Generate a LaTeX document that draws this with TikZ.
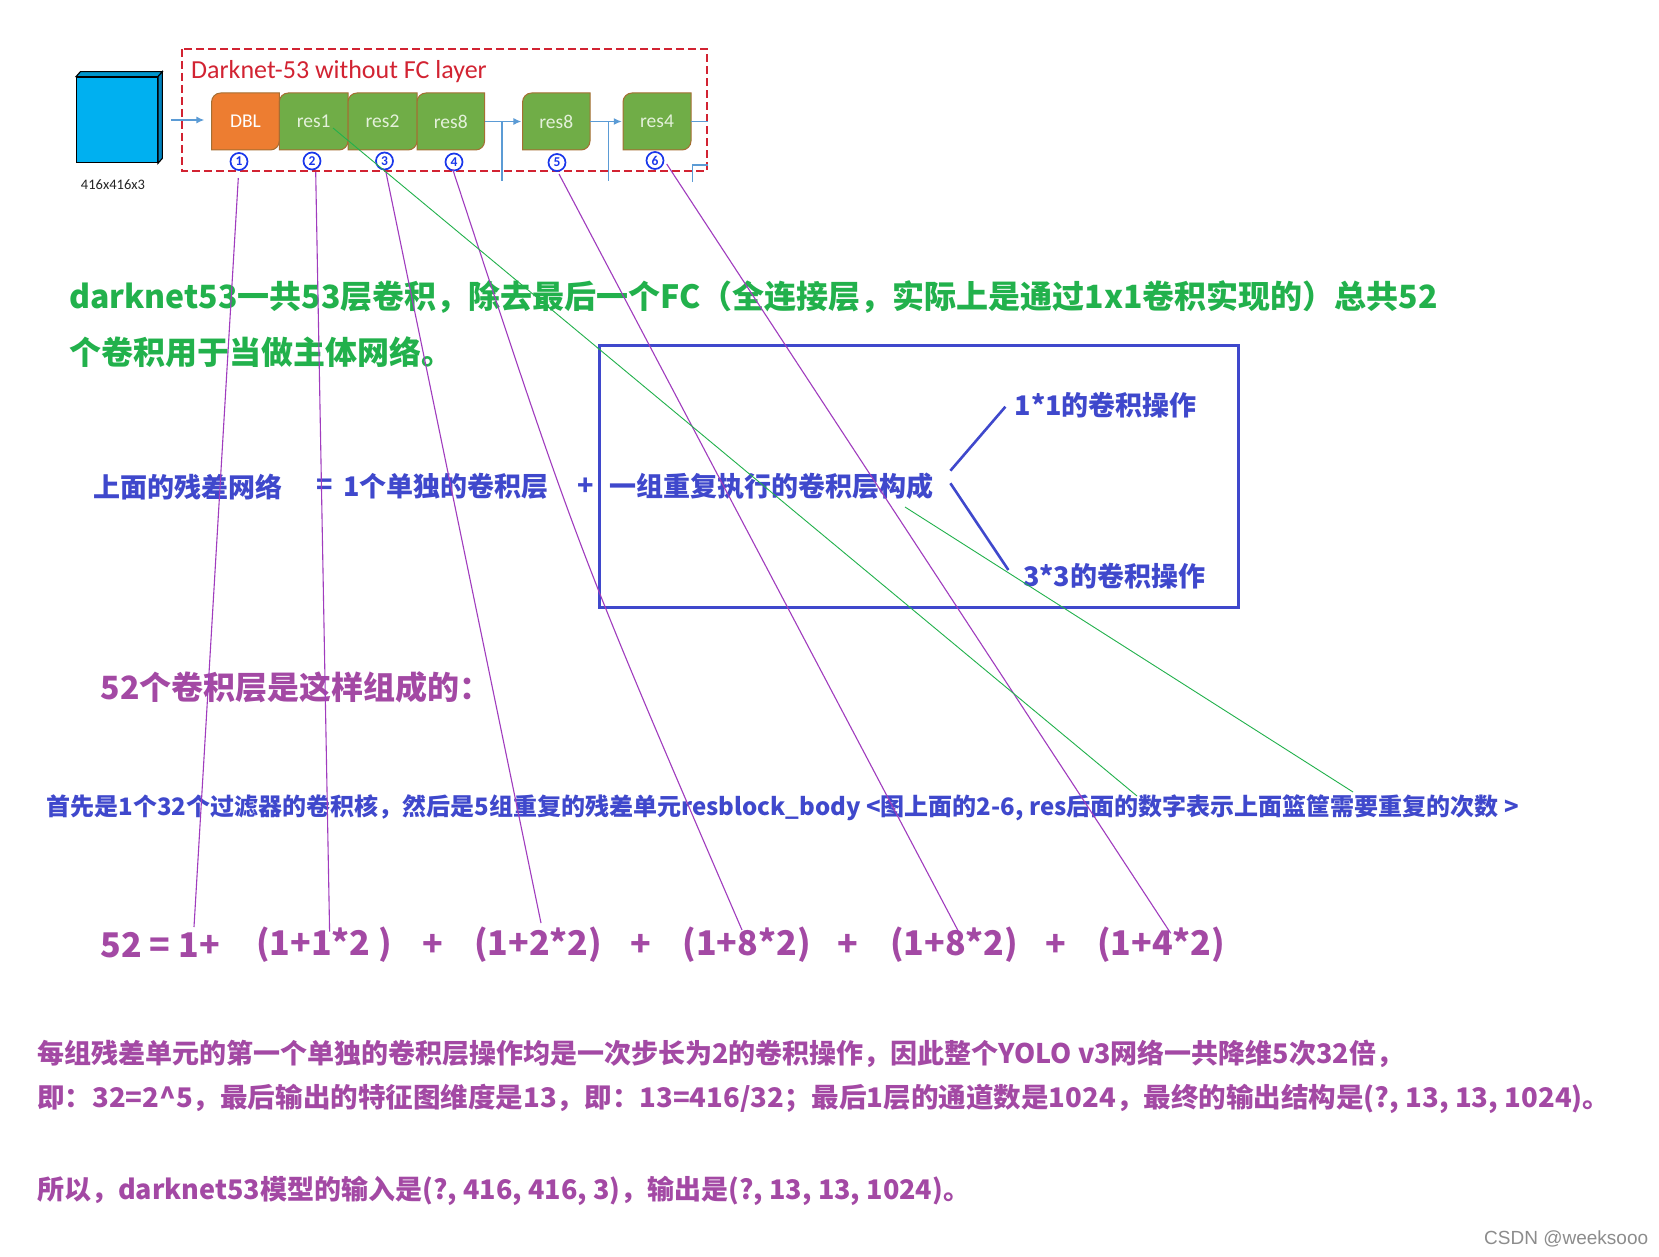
\documentclass[tikz,border=0pt]{standalone}
\usepackage{fontspec}
\setmainfont{Carlito}
\newfontfamily\cjk{Noto Sans CJK SC}
\newfontfamily\wmark{Liberation Sans}
\usepackage{xcolor}
\usepackage{tikz}
\usetikzlibrary{arrows.meta}
\definecolor{zhgreen}{RGB}{34,177,76}
\definecolor{zhblue}{RGB}{63,72,204}
\definecolor{zhpurple}{RGB}{163,73,164}
\definecolor{leadpurple}{RGB}{160,60,190}
\definecolor{dblorange}{RGB}{237,125,49}
\definecolor{resgreen}{RGB}{112,173,71}
\definecolor{restext}{RGB}{228,241,219}
\definecolor{blkedge}{RGB}{165,110,50}
\definecolor{flowblue}{RGB}{91,155,213}
\definecolor{cubeblue}{RGB}{0,176,240}
\definecolor{cubeside}{RGB}{0,130,190}
\definecolor{numblue}{RGB}{25,55,235}
\definecolor{boxred}{RGB}{210,35,50}
\tikzset{
  blkshape/.style = {draw=blkedge, line width=1pt},
  blktxt/.style   = {inner sep=0pt, minimum height=57pt, font=\fontsize{19.5}{19.5}\selectfont},
  numc/.style     = {circle, draw=numblue, fill=white, line width=1.7pt, inner sep=0pt, minimum size=17pt, text=numblue, font=\bfseries\fontsize{13.5}{13.5}\selectfont},
  flow/.style     = {draw=flowblue, line width=1.4pt, -{Latex[length=8pt,width=7pt]}},
  feed/.style     = {draw=flowblue, line width=1.4pt},
  dashbox/.style  = {draw=boxred, dash pattern=on 8pt off 4pt, line width=2.4pt},
  bluebox/.style  = {draw=zhblue, line width=3pt},
  gtxt/.style     = {font=\cjk\bfseries\fontsize{32}{40}\selectfont, text=zhgreen, anchor=west, inner sep=0pt},
  btxt/.style     = {font=\cjk\bfseries\fontsize{27}{30}\selectfont, text=zhblue, anchor=west, inner sep=0pt},
  bsmall/.style   = {font=\cjk\bfseries\fontsize{24}{30}\selectfont, text=zhblue, anchor=west, inner sep=0pt},
  ptxt/.style     = {font=\cjk\bfseries\fontsize{27}{30}\selectfont, text=zhpurple, anchor=west, inner sep=0pt},
  ptitle/.style   = {font=\cjk\bfseries\fontsize{32}{36}\selectfont, text=zhpurple, anchor=west, inner sep=0pt},
  peq/.style      = {font=\cjk\bfseries\fontsize{34}{40}\selectfont, text=zhpurple, anchor=west, inner sep=0pt},
  lead/.style     = {draw=leadpurple, line width=1.1pt},
  leadg/.style    = {draw=zhgreen, line width=0.9pt},
  brace/.style    = {draw=zhblue, line width=2.6pt},
}
% block with two rounded corners (top left, bottom right)
\newcommand{\darkblk}[6]{%
  \filldraw[blkshape, fill=#4] (#2,150) -- (#2,102) .. controls (#2,97) and ({#2+4},93) .. ({#2+9},93)
    -- (#3,93) -- (#3,141) .. controls (#3,146) and ({#3-4},150) .. ({#3-9},150) -- cycle;
  \node[blktxt, text=#5, minimum width={(#3-#2)*1pt}] (#1) at ({(#2+#3)/2},121.5) {#6};%
}

\begin{document}
\begin{tikzpicture}[x=1pt,y=-1pt]
  \fill[white] (0,0) rectangle (1659,1257);
  \useasboundingbox (0,0) rectangle (1659,1257);

  % ---- input cube ----
  \node[draw=black, line width=1.3pt, fill=cubeblue, minimum width=80.6pt, minimum height=85.4pt, inner sep=0pt] (cube) at (117,120) {};
  \filldraw[draw=black, line width=1.1pt, fill=cubeblue!85!black] (cube.north west) -- ++(4.4,-5) -- ([shift={(4.4,-5)}]cube.north east) -- (cube.north east) -- cycle;
  \filldraw[draw=black, line width=1.1pt, fill=cubeside] (cube.north east) -- ++(4.4,-5) -- ([shift={(4.4,-5)}]cube.south east) -- (cube.south east) -- cycle;
  \node[font=\fontsize{14.5}{14.5}\selectfont, text=black!85] (dim) at (113,185) {416x416x3};

  % ---- darknet-53 strip ----
  \draw[dashbox] (182,49) rectangle (707,171);
  \node[font=\fontsize{26}{26}\selectfont, text=boxred, anchor=west, inner sep=0pt] (ttl) at (191,72) {Darknet-53 without FC layer};
  \darkblk{dbl}{211.6}{279.3}{dblorange}{white}{DBL}
  \foreach \n/\a/\b/\t in {r2/279.3/348/res1, r3/348/417/res2, r4/417/484.6/res8, r5/522.6/590/res8, r6/623/691/res4} {
    \darkblk{\n}{\a}{\b}{resgreen}{restext}{\t}
  }
  \draw[flow, shorten <=13pt, shorten >=7pt] (cube.east) -- (cube.east -| dbl.west);
  \draw[flow, shorten >=1pt] (r4.east) -- (r5.west);
  \draw[flow, shorten >=1pt] (r5.east) -- (r6.west);
  \draw[feed] (r6.east) -- ++(17,0);
  \coordinate (s1) at (502,121.5);
  \coordinate (s2) at (608.3,121.5);
  \draw[feed] (s1) -- ++(0,60);
  \draw[feed] (s2) -- ++(0,60);
  \draw[feed] (708,165) -- (692.7,165) -- (692.7,182);
  \foreach \k/\x/\y in {1/239/161.5, 2/312/161, 3/384.5/161, 4/454/162, 5/557/162.5, 6/655/160.5} {
    \node[numc] (n\k) at (\x,\y) {\k};
  }

  % ---- green note ----
  \node[gtxt] (g1) at (68.8,297) {darknet53一共53层卷积，除去最后一个FC（全连接层，实际上是通过1x1卷积实现的）总共52};
  \node[gtxt] (g2) at (68.8,352) {个卷积用于当做主体网络。};

  % ---- residual block note ----
  \draw[bluebox] (599,345) rectangle (1238,607);
  \node[btxt] (b1) at (93,486.7) {上面的残差网络};
  \node[btxt] (b2) at (316,486.7) {=};
  \node[btxt] (b3) at (342.8,486.7) {1个单独的卷积层};
  \node[btxt] (b4) at (577,486.7) {+};
  \node[btxt] (b5) at (609.4,486.7) {一组重复执行的卷积层构成};
  \node[btxt] (c1) at (1014.6,405) {1*1的卷积操作};
  \node[btxt] (c3) at (1023,576) {3*3的卷积操作};
  \coordinate (k0) at (950.4,470.7);
  \coordinate (k1) at (950.4,483.3);
  \draw[brace] (k0) -- (1005.4,406.7);
  \draw[brace] (k1) -- (1008.4,570);

  % ---- 52 layers ----
  \node[ptitle] (pt) at (100.5,687.7) {52个卷积层是这样组成的：};
  \node[bsmall] (s0) at (46.5,808) {首先是1个32个过滤器的卷积核，然后是5组重复的残差单元resblock\_body <图上面的2-6, res后面的数字表示上面篮筐需要重复的次数 >};
  \node[peq] (e0) at (100.5,945) {52 = 1+};
  \node[peq] (e1) at (256,945) {(1+1*2 )};
  \node[peq] (e2) at (474,945) {(1+2*2)};
  \node[peq] (e3) at (682.4,945) {(1+8*2)};
  \node[peq] (e4) at (890,945) {(1+8*2)};
  \node[peq] (e5) at (1097,945) {(1+4*2)};
  \foreach \k/\x in {1/433, 2/640.5, 3/848, 4/1055.5} {
    \node[peq, anchor=center] (pl\k) at (\x,945) {+};
  }

  % ---- summary ----
  \node[ptxt] (m1) at (37,1054) {每组残差单元的第一个单独的卷积层操作均是一次步长为2的卷积操作，因此整个YOLO v3网络一共降维5次32倍，};
  \node[ptxt] (m2) at (37,1099) {\scalebox{1.02}[1]{即：32=2\textasciicircum5，最后输出的特征图维度是13，即：13=416/32；最后1层的通道数是1024，最终的输出结构是(?, 13, 13, 1024)。}};
  \node[ptxt] (m3) at (37,1191) {所以，darknet53模型的输入是(?, 416, 416, 3)，输出是(?, 13, 13, 1024)。};
  \node[font=\wmark\fontsize{19}{19}\selectfont, text=black!45, anchor=west, inner sep=0pt] (wm) at (1484,1239) {CSDN @weeksooo};

  % ---- leader lines ----
  \foreach \k/\xa/\ya/\xb/\yb in {1/238.3/178/194/927, 2/315.7/172/329.6/931.7, 3/385.7/171/541/923, 5/559/174/958.6/931.7, 6/666.7/164/1170.7/933.3} {
    \coordinate (t\k) at (\xa,\ya);
    \coordinate (u\k) at (\xb,\yb);
    \draw[lead] (t\k) -- (u\k);
  }
  \coordinate (t4) at (452.7,169.3);
  \coordinate (u4) at (742,930);
  \draw[lead] (t4) .. controls (578,550) .. (u4);
  \coordinate (v1) at (333,128);
  \coordinate (w1) at (1137,796);
  \coordinate (v2) at (905,507);
  \coordinate (w2) at (1353,792);
  \draw[leadg] (v1) -- (w1);
  \draw[leadg] (v2) -- (w2);
\end{tikzpicture}
\end{document}
